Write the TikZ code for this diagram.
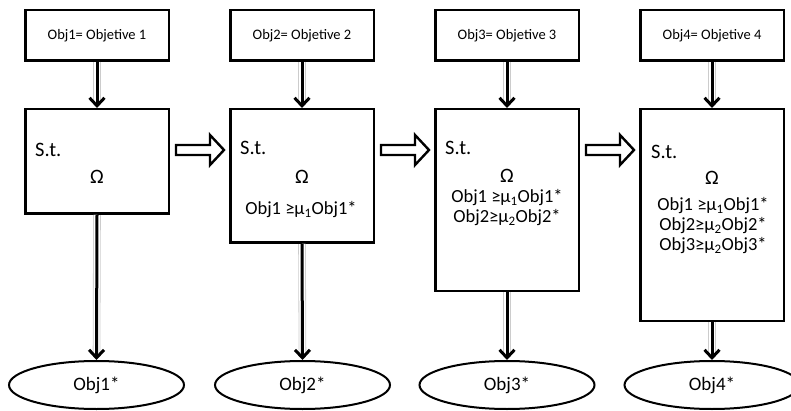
\documentclass[tikz,border=0pt]{standalone}
\usepackage{fontspec}
\setmainfont{Carlito}
\usetikzlibrary{shapes.geometric,arrows.meta,calc}
\newcommand\hollowarrow[2]{%
  \path[hollow] let \p1=(#1.north east), \p2=(#2.north west) in
    (\x1+6pt,\y1-37pt) -- (\x2-19pt,\y1-37pt) -- (\x2-19pt,\y1-27pt) --
    (\x2-5pt,\y1-42pt) -- (\x2-19pt,\y1-57pt) -- (\x2-19pt,\y1-47pt) --
    (\x1+6pt,\y1-47pt) -- cycle;}
\begin{document}
\begin{tikzpicture}[x=1pt,y=-1pt,
  topbox/.style={draw, line width=2.5pt, minimum width=143.5pt, minimum height=50.5pt,
    inner sep=0pt, font=\fontsize{14.5}{16}\selectfont},
  mainbox/.style={draw, line width=2.5pt, minimum width=143.5pt, inner sep=0pt, anchor=north},
  res/.style={draw, ellipse, line width=2pt, minimum width=175pt, minimum height=48pt,
    inner sep=0pt, font=\fontsize{19}{22}\selectfont},
  stlabel/.style={anchor=west, font=\fontsize{20.5}{22}\selectfont, inner sep=0pt},
  omega/.style={font=\fontsize{20.5}{22}\selectfont, inner sep=0pt},
  cons/.style={font=\fontsize{18.5}{20}\selectfont, inner sep=0pt},
  halo/.style={draw=gray!40, line width=0.8pt, double=white, double distance=6pt, shorten >=8pt},
  flow/.style={line width=3pt, -{Straight Barb[length=8pt,width=15pt]}},
  hollow/.style={draw, line width=2.4pt, fill=white, line join=miter}
]
\useasboundingbox (0,0) rectangle (791,411);

% top boxes
\node[topbox] (t1) at (97,35.5) {Obj1= Objetive 1};
\node[topbox] (t2) at (302,35.5) {Obj2= Objetive 2};
\node[topbox] (t3) at (507,35.5) {Obj3= Objetive 3};
\node[topbox] (t4) at (712,35.5) {Obj4= Objetive 4};

% main boxes
\node[mainbox, minimum height=104.5pt] (m1) at (97,108) {};
\node[mainbox, minimum height=133.5pt] (m2) at (302,108) {};
\node[mainbox, minimum height=181.5pt] (m3) at (507,108) {};
\node[mainbox, minimum height=211.5pt] (m4) at (712,108) {};

% result ellipses
\node[res] (e1) at (96.5,385) {Obj1*};
\node[res] (e2) at (302.5,385) {Obj2*};
\node[res] (e3) at (507,385) {Obj3*};
\node[res] (e4) at (712,385) {Obj4*};

% texts in box 1
\node[stlabel] (s1) at (35,150) {S.t.};
\node[omega] (o1) at (97,177) {Ω};
% box 2
\node[stlabel] (s2) at (240,148) {S.t.};
\node[omega] (o2) at (302,177) {Ω};
\node[cons] (c21) at (301,210) {Obj1 ≥μ\textsubscript{1}Obj1*};
% box 3
\node[stlabel] (s3) at (445,148) {S.t.};
\node[omega] (o3) at (507,176) {Ω};
\node[cons] (c31) at (507,198) {Obj1 ≥μ\textsubscript{1}Obj1*};
\node[cons] (c32) at (507,218) {Obj2≥μ\textsubscript{2}Obj2*};
% box 4
\node[stlabel] (s4) at (651,152) {S.t.};
\node[omega] (o4) at (712,178) {Ω};
\node[cons] (c41) at (713,206) {Obj1 ≥μ\textsubscript{1}Obj1*};
\node[cons] (c42) at (713,226) {Obj2≥μ\textsubscript{2}Obj2*};
\node[cons] (c43) at (713,246) {Obj3≥μ\textsubscript{2}Obj3*};

% vertical arrows
\foreach \i in {1,2,3,4}{
  \draw[halo] (t\i.south) -- (m\i.north);
  \draw[flow] (t\i.south) -- (m\i.north);
  \draw[halo] (m\i.south) -- (e\i.north);
  \draw[flow] (m\i.south) -- (e\i.north);
}

% hollow block arrows
\hollowarrow{m1}{m2}
\hollowarrow{m2}{m3}
\hollowarrow{m3}{m4}
\end{tikzpicture}
\end{document}
